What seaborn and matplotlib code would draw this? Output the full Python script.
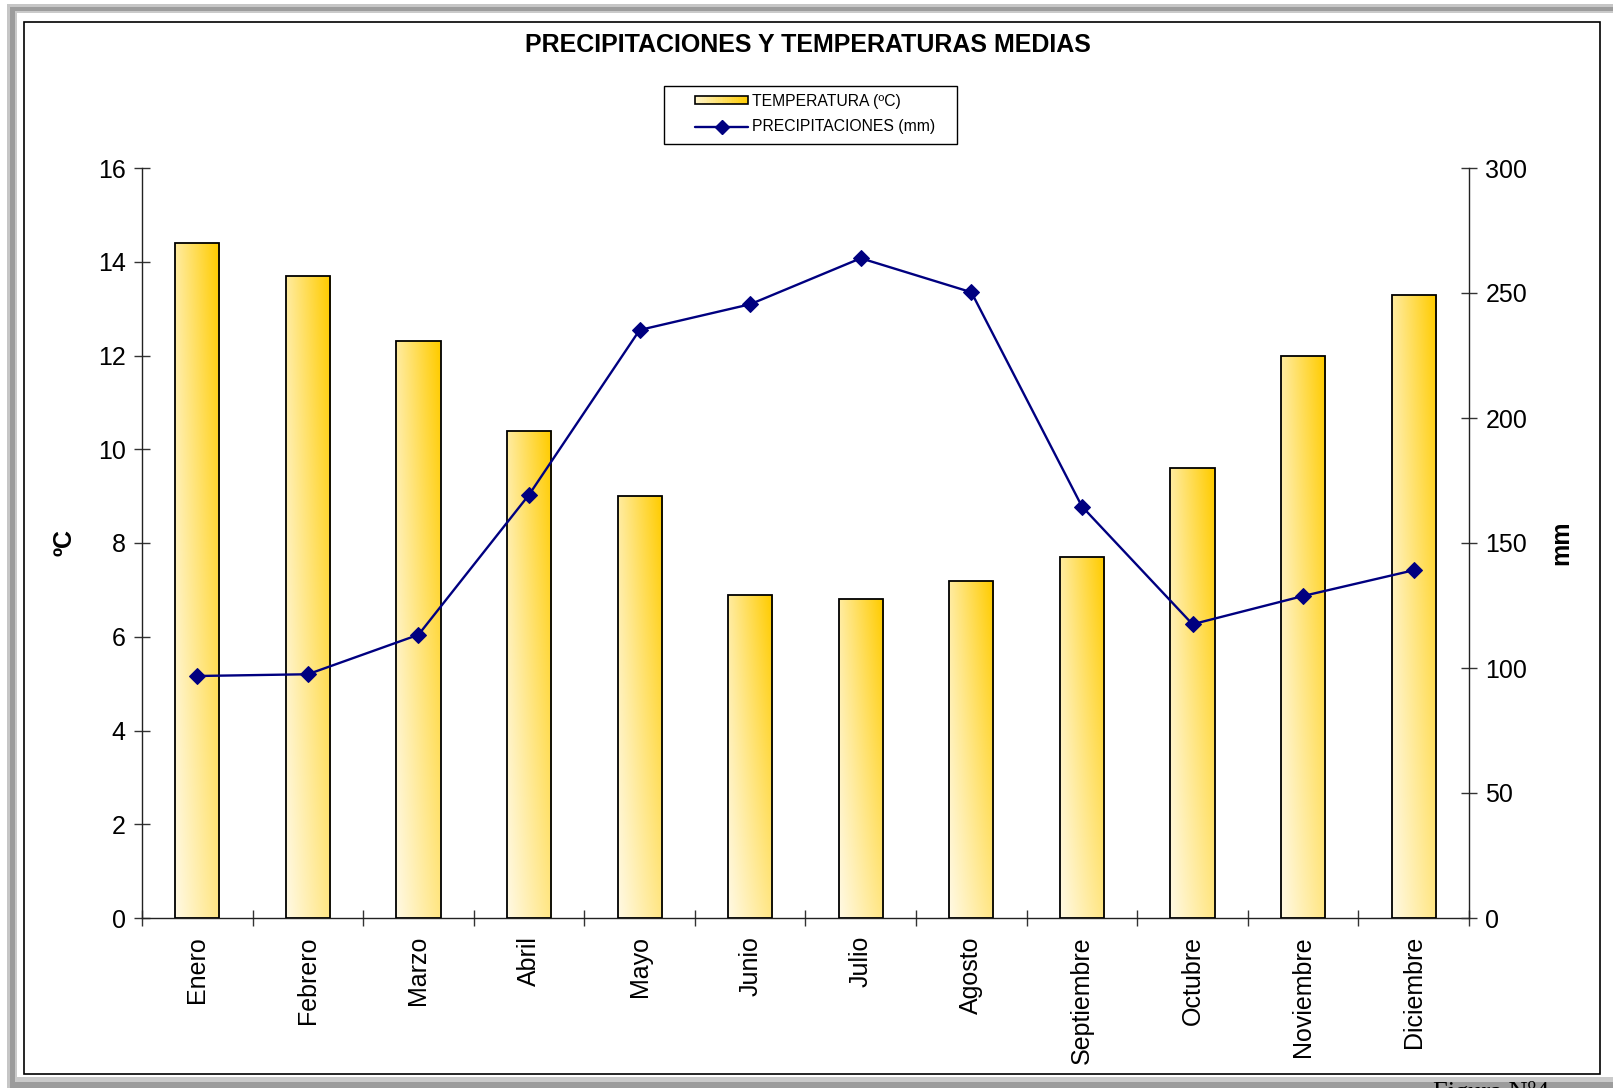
import numpy as np
import pandas as pd
import matplotlib
matplotlib.use("Agg")
import matplotlib.pyplot as plt
import seaborn as sns
from matplotlib.patches import Rectangle, Patch
from matplotlib.lines import Line2D
from matplotlib.legend_handler import HandlerBase

# ---------------- data ----------------
meses = ["Enero", "Febrero", "Marzo", "Abril", "Mayo", "Junio", "Julio",
         "Agosto", "Septiembre", "Octubre", "Noviembre", "Diciembre"]
temperatura = [14.4, 13.7, 12.3, 10.4, 9.0, 6.9, 6.8, 7.2, 7.7, 9.6, 12.0, 13.3]
precipitaciones = [96.8, 97.5, 113.3, 169.3, 235.2, 245.5, 263.9, 250.3,
                   164.6, 117.5, 128.8, 139.1]
temp_ticks = [0, 2, 4, 6, 8, 10, 12, 14, 16]
prec_ticks = [0, 50, 100, 150, 200, 250, 300]
titulo = "PRECIPITACIONES Y TEMPERATURAS MEDIAS"
leyenda_temp = "TEMPERATURA (ºC)"
leyenda_prec = "PRECIPITACIONES (mm)"
etiqueta_izq = "ºC"
etiqueta_der = "mm"
nota = "Figura Nº4"

df = pd.DataFrame({"mes": meses, "temp": temperatura,
                   "prec": precipitaciones, "pos": np.arange(len(meses))})

# ---------------- style ----------------
sns.set_style("ticks")
plt.rcParams["font.family"] = ["Liberation Sans", "DejaVu Sans"]
plt.rcParams["text.color"] = "black"
plt.rcParams["axes.labelcolor"] = "black"
plt.rcParams["xtick.color"] = "black"
plt.rcParams["ytick.color"] = "black"

W, H = 1613, 1088
fig = plt.figure(figsize=(W / 100, H / 100), dpi=100)
fig.patch.set_facecolor("white")


def frac_rect(x0, y0, x1, y1):
    return (x0 / W, 1 - y1 / H), (x1 - x0) / W, (y1 - y0) / H


def add_rect(x0, y0, x1, y1, **kw):
    xy, w, h = frac_rect(x0, y0, x1, y1)
    r = Rectangle(xy, w, h, transform=fig.transFigure, **kw)
    fig.add_artist(r)
    return r


# outer frame (gray bevel + black inner border)
add_rect(7, 4, W + 10, H + 10, facecolor="#C6C6C6", edgecolor="none", zorder=-20)
add_rect(10, 7, W + 10, H + 10, facecolor="#9C9C9C", edgecolor="none", zorder=-19)
add_rect(15, 11, W + 10, 1082, facecolor="#CACACA", edgecolor="none", zorder=-18)
add_rect(17, 13, W + 10, 1077, facecolor="white", edgecolor="none", zorder=-17)
add_rect(24, 22, 1600, 1074, facecolor="none", edgecolor="black", lw=1.2, zorder=-16)

PALE = np.array([1.0, 0.976, 0.89])
GOLD = np.array([1.0, 0.80, 0.0])


def grad_color(t):
    t = np.clip(t, 0, 1)
    return PALE + (GOLD - PALE) * t


# ---------------- axes ----------------
ax = fig.add_axes([142 / W, 1 - 918 / H, (1469 - 142) / W, (918 - 168) / H])
ax.patch.set_alpha(0)

sns.barplot(data=df, x="mes", y="temp", ax=ax, width=0.4, color="#FFDD70",
            saturation=1, edgecolor="black", linewidth=1.3, zorder=3)

# gradient fill of each bar
nx, ny = 40, 120
xf = np.linspace(0, 1, nx)[None, :]
yf = np.linspace(0, 1, ny)[:, None]
tt = 0.42 * xf + 0.30 * yf + 0.30 * xf * yf
img = grad_color(tt[..., None])
for p in list(ax.patches):
    x0, y0, w, h = p.get_x(), p.get_y(), p.get_width(), p.get_height()
    im = ax.imshow(img, extent=[x0, x0 + w, y0, y0 + h], origin="lower",
                   aspect="auto", interpolation="bilinear", zorder=2.9)
    im.set_clip_path(p)
    p.set_facecolor("none")

ax.set_xlim(-0.5, len(meses) - 0.5)
ax.set_ylim(0, 16)
ax.set_yticks(temp_ticks)
ax.set_xticks(np.arange(len(meses)))
ax.set_xticklabels(meses)
ax.set_xticks(np.arange(-0.5, len(meses), 1), minor=True)
ax.set_xlabel("")

ax.tick_params(axis="y", which="major", direction="inout", length=11.5, width=1,
               color="#333333", pad=6, labelsize=18, left=True, labelcolor="black")
ax.tick_params(axis="x", which="major", length=0, pad=13, labelsize=18,
               labelrotation=90, labelcolor="black")
ax.tick_params(axis="x", which="minor", direction="inout", length=12, width=1,
               color="#333333", bottom=True)
for s in ["top", "right"]:
    ax.spines[s].set_visible(False)
for s in ["left", "bottom"]:
    ax.spines[s].set_color("#222222")
    ax.spines[s].set_linewidth(1)

ax.set_ylabel(etiqueta_izq, fontsize=18, fontweight="bold", color="black")
ax.yaxis.set_label_coords((65 - 142) / 1327, 0.5)
ax.yaxis.label.set_va("center")

# precipitation on twin axis
ax2 = ax.twinx()
sns.lineplot(data=df, x="pos", y="prec", ax=ax2, color="#000080", linewidth=1.7,
             marker="D", markersize=8.5, markeredgecolor="#000080", zorder=5)
ax2.set_xlim(-0.5, len(meses) - 0.5)
ax2.set_ylim(0, 300)
ax2.set_yticks(prec_ticks)
ax2.tick_params(axis="y", direction="inout", length=11.5, width=1, color="#333333",
                pad=6, labelsize=18, right=True, labelcolor="black")
for s in ["top", "left", "bottom"]:
    ax2.spines[s].set_visible(False)
ax2.spines["right"].set_color("#222222")
ax2.spines["right"].set_linewidth(1)
ax2.set_xlabel("")
ax2.set_ylabel(etiqueta_der, fontsize=18, fontweight="bold", color="black")
ax2.yaxis.set_label_coords((1561 - 142) / 1327, 0.5)
ax2.yaxis.label.set_va("center")

# ---------------- title ----------------
fig.text(808 / W, 1 - 45 / H, titulo, ha="center", va="center",
         fontsize=18, fontweight="bold", color="black")


# ---------------- legend ----------------
class GradPatch(Patch):
    pass


class GradientHandler(HandlerBase):
    def create_artists(self, legend, orig_handle, xdescent, ydescent, width,
                       height, fontsize, trans):
        arts = []
        n = 30
        x0, y0 = -xdescent, -ydescent
        for i in range(n):
            t = 0.1 + 0.9 * (i + 0.5) / n
            arts.append(Rectangle((x0 + width * i / n, y0), width / n * 1.05, height,
                                  facecolor=grad_color(t), edgecolor="none",
                                  transform=trans))
        arts.append(Rectangle((x0, y0), width, height, facecolor="none",
                              edgecolor="black", lw=1.2, transform=trans))
        return arts


h_temp = GradPatch(facecolor="#FFDD70", edgecolor="black")
h_prec = Line2D([], [], color="#000080", lw=1.7, marker="D", markersize=7,
                markeredgecolor="#000080")
leg = fig.legend(handles=[h_temp, h_prec], labels=[leyenda_temp, leyenda_prec],
                 handler_map={GradPatch: GradientHandler()},
                 loc="center left", bbox_to_anchor=(695 / W, 1 - 114 / H),
                 frameon=False, fontsize=11.3, handlelength=3.4, handleheight=0.45,
                 handletextpad=0.25, labelspacing=0.7, borderpad=0, borderaxespad=0,
                 numpoints=1)
for t in leg.get_texts():
    t.set_color("black")
add_rect(664, 86, 957, 144, facecolor="none", edgecolor="black", lw=1, zorder=5)

# ---------------- footer note (partly cut off, as in the original) ----------------
fig.text(1433 / W, 1 - 1099 / H, nota, ha="left", va="baseline", fontsize=19,
         fontfamily=["Liberation Serif", "DejaVu Serif"], color="black", zorder=10)

fig.savefig("out.png", dpi=100)
